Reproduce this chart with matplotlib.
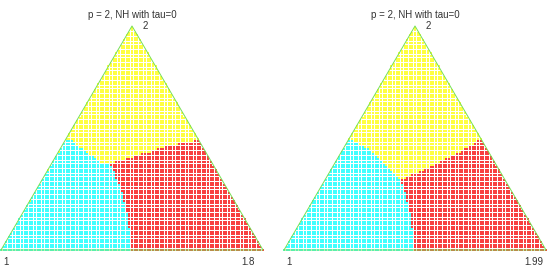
import numpy as np
import matplotlib
matplotlib.use("Agg")
import matplotlib.pyplot as plt
from matplotlib.path import Path

plt.rcParams['font.family'] = ['Liberation Sans', 'DejaVu Sans']

title = "p = 2, NH with tau=0"
top_label = "2"
left_label = "1"
right_labels = ["1.8", "1.99"]

# region boundaries (x, y in triangle coords, base 0..1)
# left panel
cy_yel_1 = [(0.252, 0.433), (0.328, 0.379), (0.378, 0.340), (0.416, 0.336)]
yel_red_1 = [(0.416, 0.336), (0.481, 0.352), (0.569, 0.379), (0.645, 0.406),
             (0.721, 0.418), (0.757, 0.425)]
cy_red_1 = [(0.416, 0.336), (0.443, 0.271), (0.466, 0.205), (0.485, 0.128),
            (0.492, 0.066), (0.496, 0.0)]
# right panel
cy_yel_2 = [(0.248, 0.430), (0.328, 0.387), (0.378, 0.336), (0.416, 0.298),
            (0.443, 0.271)]
yel_red_2 = [(0.443, 0.271), (0.519, 0.302), (0.595, 0.340), (0.672, 0.379),
             (0.752, 0.430)]
cy_red_2 = [(0.443, 0.271), (0.462, 0.220), (0.481, 0.143), (0.492, 0.077),
            (0.496, 0.0)]

H = np.sqrt(3) / 2
step = 0.01  # grid pitch

def grid():
    xs = np.arange(0, 1 + 1e-9, step)
    ys = np.arange(0, H + 1e-9, step)
    X, Y = np.meshgrid(xs, ys)
    X, Y = X.ravel(), Y.ravel()
    keep = (Y <= np.sqrt(3) * X + 1e-9) & (Y <= np.sqrt(3) * (1 - X) + 1e-9)
    return np.column_stack([X[keep], Y[keep]])

def panel(ax, cy_yel, yel_red, cy_red, rlab):
    pts = grid()
    cyan_poly = [(0, 0)] + cy_red[::-1] + cy_yel[::-1] + [(0, 0)]
    red_poly = [(1, 0), yel_red[-1]] + yel_red[::-1] + cy_red + [(1, 0)]
    in_cy = Path(cyan_poly).contains_points(pts, radius=1e-9)
    in_red = Path(red_poly).contains_points(pts, radius=1e-9) & ~in_cy
    in_yel = ~in_cy & ~in_red
    for m, c in [(in_yel, '#ffff40'), (in_cy, '#40ffff'), (in_red, '#f84040')]:
        ax.scatter(pts[m, 0], pts[m, 1], s=2.9, marker='s', c=c,
                   linewidths=0, clip_on=False)
    tri = np.array([(0, 0), (1, 0), (0.5, H), (0, 0)])
    ax.plot(tri[:, 0], tri[:, 1], color='#77e055', lw=0.7, clip_on=False)
    ax.set_xlim(0, 1)
    ax.set_ylim(0, H)
    ax.axis('off')
    ax.text(0.5, 0.907, title, ha='center', va='center', fontsize=7, color='#333333')
    ax.text(0.54, 0.866, top_label, ha='left', va='center', fontsize=7, color='#333333')
    ax.text(0.01, -0.046, left_label, ha='left', va='center', fontsize=7, color='#333333')
    ax.text(0.918, -0.046, rlab, ha='left', va='center', fontsize=7, color='#333333')

fig = plt.figure(figsize=(5.47, 2.73), dpi=100)
W, Hpx = 547, 273
ax1 = fig.add_axes([1 / W, 23 / Hpx, 262 / W, 224 / Hpx])
ax2 = fig.add_axes([284 / W, 23 / Hpx, 262 / W, 224 / Hpx])
panel(ax1, cy_yel_1, yel_red_1, cy_red_1, right_labels[0])
panel(ax2, cy_yel_2, yel_red_2, cy_red_2, right_labels[1])
fig.savefig("out.png", dpi=100)
